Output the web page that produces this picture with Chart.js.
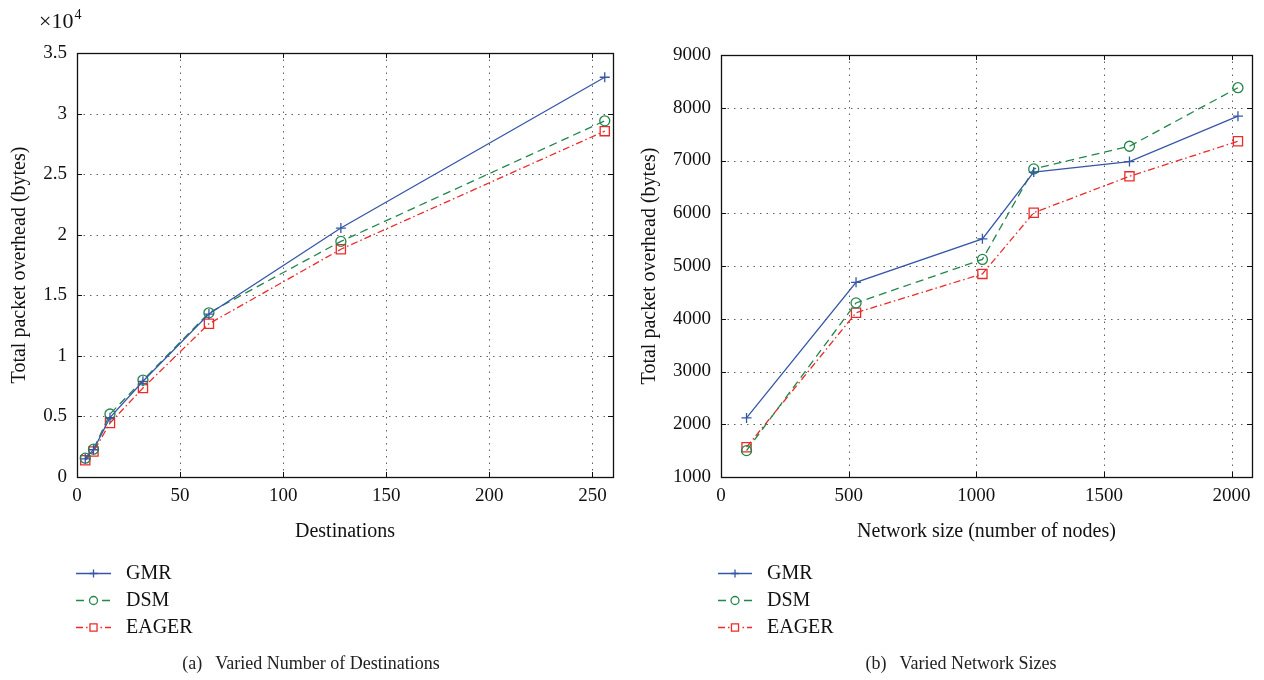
<!DOCTYPE html>
<html>
<head>
<meta charset="utf-8">
<script src="https://cdn.jsdelivr.net/npm/chart.js@4.4.0/dist/chart.umd.min.js"></script>
<style>
  body { margin: 0; background: #fff; }
  #wrap { position: relative; width: 1264px; height: 680px; }
  canvas { position: absolute; top: 0; }
  .cap { position: absolute; top: 653px; font: 18px "Liberation Serif", serif; color: #222; text-align: center; white-space: pre; }
</style>
</head>
<body>
<div id="wrap">
  <canvas id="left" width="630" height="680" style="left:0"></canvas>
  <canvas id="right" width="634" height="680" style="left:630px"></canvas>
  <div class="cap" style="left:111px;width:400px">(a)   Varied Number of Destinations</div>
  <div class="cap" style="left:761px;width:400px">(b)   Varied Network Sizes</div>
</div>
<script>
// (a) packet overhead vs number of destinations (bytes)
const destinations = [4, 8, 16, 32, 64, 128, 256];
const gmrDest   = [1500, 2250, 4900, 7900, 13450, 20550, 33000];
const dsmDest   = [1550, 2300, 5200, 8000, 13550, 19450, 29400];
const eagerDest = [1380, 2100, 4450, 7350, 12650, 18800, 28550];

// (b) packet overhead vs network size (bytes)
const networkSizes = [100, 529, 1024, 1225, 1600, 2025];
const gmrNet   = [2120, 4690, 5515, 6780, 6980, 7840];
const dsmNet   = [1500, 4300, 5125, 6840, 7270, 8380];
const eagerNet = [1565, 4115, 4850, 6010, 6700, 7365];

// tick labels
const destTicks = [0, 50, 100, 150, 200, 250];
const destYTicks = [0, 5000, 10000, 15000, 20000, 25000, 30000, 35000];
const netTicks = [0, 500, 1000, 1500, 2000];
const netYTicks = [1000, 2000, 3000, 4000, 5000, 6000, 7000, 8000, 9000];

const FONT = '"Liberation Serif", "Times New Roman", serif';

function toPoints(xs, ys) {
  return xs.map((x, i) => ({ x: x, y: ys[i] }));
}

function makeDatasets(xs, gmr, dsm, eager) {
  return [
    { label: "GMR", data: toPoints(xs, gmr), borderColor: "#3656a8", borderWidth: 1.3,
      pointStyle: "cross", pointRadius: 5, pointBorderWidth: 1.3, pointBorderColor: "#3656a8",
      pointBackgroundColor: "rgba(0,0,0,0)" },
    { label: "DSM", data: toPoints(xs, dsm), borderColor: "#23864a", borderWidth: 1.3,
      borderDash: [8, 5], pointStyle: "circle", pointRadius: 5, pointBorderWidth: 1.3,
      pointBorderColor: "#23864a", pointBackgroundColor: "rgba(0,0,0,0)" },
    { label: "EAGER", data: toPoints(xs, eager), borderColor: "#ec2a2a", borderWidth: 1.3,
      borderDash: [7, 3, 1.5, 3], pointStyle: "rect", pointRadius: 6.5, pointBorderWidth: 1.3,
      pointBorderColor: "#ec2a2a", pointBackgroundColor: "rgba(0,0,0,0)" }
  ];
}

// dotted grid, inward ticks, box, exponent and the stacked legend
const frame = {
  id: "frame",
  beforeDatasetsDraw(chart) {
    const { ctx, chartArea: a, scales: { x, y } } = chart;
    ctx.save();
    ctx.strokeStyle = "rgba(30,30,30,0.7)";
    ctx.lineWidth = 1;
    ctx.setLineDash([1.5, 5]);
    x.ticks.forEach(t => {
      const px = Math.round(x.getPixelForValue(t.value)) + 0.5;
      if (px <= a.left + 2 || px >= a.right - 2) return;
      ctx.beginPath(); ctx.moveTo(px, a.top); ctx.lineTo(px, a.bottom); ctx.stroke();
    });
    y.ticks.forEach(t => {
      const py = Math.round(y.getPixelForValue(t.value)) + 0.5;
      if (py <= a.top + 2 || py >= a.bottom - 2) return;
      ctx.beginPath(); ctx.moveTo(a.left, py); ctx.lineTo(a.right, py); ctx.stroke();
    });
    ctx.restore();
  },
  afterDraw(chart, args, opts) {
    const { ctx, chartArea: a, scales: { x, y } } = chart;
    ctx.save();
    ctx.strokeStyle = "#111";
    ctx.lineWidth = 1;
    ctx.setLineDash([]);
    ctx.beginPath();
    x.ticks.forEach(t => {
      const px = Math.round(x.getPixelForValue(t.value)) + 0.5;
      ctx.moveTo(px, a.bottom); ctx.lineTo(px, a.bottom - 5);
      ctx.moveTo(px, a.top); ctx.lineTo(px, a.top + 5);
    });
    y.ticks.forEach(t => {
      const py = Math.round(y.getPixelForValue(t.value)) + 0.5;
      ctx.moveTo(a.left, py); ctx.lineTo(a.left + 5, py);
      ctx.moveTo(a.right, py); ctx.lineTo(a.right - 5, py);
    });
    ctx.stroke();
    ctx.lineWidth = 1.3;
    ctx.strokeRect(Math.round(a.left) + 0.5, Math.round(a.top) + 0.5,
      Math.round(a.right - a.left), Math.round(a.bottom - a.top));

    ctx.fillStyle = "#111";
    if (opts.exponent) {
      ctx.textBaseline = "alphabetic";
      ctx.textAlign = "left";
      ctx.font = "22px " + FONT;
      ctx.fillText("\u00d710", 39, 28);
      const w = ctx.measureText("\u00d710").width;
      ctx.font = "14px " + FONT;
      ctx.fillText("4", 39 + w + 1, 19);
    }

    // legend rows below the plot
    const rows = [573, 600, 627];
    chart.data.datasets.forEach((ds, i) => {
      const ly = rows[i] + 0.5;
      ctx.strokeStyle = ds.borderColor;
      ctx.lineWidth = ds.borderWidth;
      ctx.setLineDash(ds.borderDash || []);
      ctx.beginPath();
      ctx.moveTo(opts.x0, ly); ctx.lineTo(opts.x1, ly);
      ctx.stroke();
      ctx.setLineDash([]);
      ctx.fillStyle = "#fff";
      const mx = (opts.x0 + opts.x1) / 2;
      if (ds.pointStyle !== "cross") {
        ctx.beginPath(); ctx.arc(mx, ly, 5, 0, Math.PI * 2); ctx.fill();
      }
      Chart.helpers.drawPoint(ctx, {
        pointStyle: ds.pointStyle, rotation: 0,
        radius: ds.pointStyle === "rect" ? 5 : 4, borderWidth: 1.3
      }, mx, ly);
      ctx.fillStyle = "#111";
      ctx.font = "20px " + FONT;
      ctx.textAlign = "left";
      ctx.textBaseline = "middle";
      ctx.fillText(ds.label, opts.textX, ly);
    });
    ctx.restore();
  }
};

function makeChart(id, cfg) {
  const tickFont = { family: FONT, size: 19 };
  const titleFont = { family: FONT, size: 20 };
  return new Chart(document.getElementById(id), {
    type: "line",
    data: { datasets: cfg.datasets },
    plugins: [frame],
    options: {
      responsive: false,
      animation: false,
      devicePixelRatio: 1,
      layout: { padding: { top: cfg.top, right: cfg.padRight, bottom: 131, left: 0 } },
      plugins: {
        legend: { display: false },
        tooltip: { enabled: false },
        frame: cfg.frame
      },
      scales: {
        x: {
          type: "linear",
          min: cfg.xMin, max: cfg.xMax,
          afterBuildTicks: s => { s.ticks = cfg.xTicks.map(v => ({ value: v })); },
          afterFit: s => { s.height = 72; },
          grid: { display: false, drawTicks: false },
          border: { display: false },
          ticks: { font: tickFont, color: "#111", padding: 8, maxRotation: 0,
                   callback: v => String(v) },
          title: { display: true, text: cfg.xTitle, font: titleFont, color: "#111",
                   padding: { top: 0, bottom: 5 } }
        },
        y: {
          type: "linear",
          min: cfg.yMin, max: cfg.yMax,
          afterBuildTicks: s => { s.ticks = cfg.yTicks.map(v => ({ value: v })); },
          afterFit: s => { s.width = cfg.yWidth; },
          grid: { display: false, drawTicks: false },
          border: { display: false },
          ticks: { font: tickFont, color: "#111", padding: 10, callback: cfg.yFormat },
          title: { display: true, text: "Total packet overhead (bytes)", font: titleFont,
                   color: "#111", padding: { top: 8, bottom: 0 } }
        }
      }
    }
  });
}

makeChart("left", {
  datasets: makeDatasets(destinations, gmrDest, dsmDest, eagerDest),
  top: 53, padRight: 17, yWidth: 77,
  xMin: 0, xMax: 260, xTicks: destTicks, xTitle: "Destinations",
  yMin: 0, yMax: 35000, yTicks: destYTicks,
  yFormat: v => String(v / 10000),
  frame: { exponent: true, x0: 76, x1: 111, textX: 126 }
});

makeChart("right", {
  datasets: makeDatasets(networkSizes, gmrNet, dsmNet, eagerNet),
  top: 55, padRight: 12, yWidth: 91,
  xMin: 0, xMax: 2080, xTicks: netTicks, xTitle: "Network size (number of nodes)",
  yMin: 1000, yMax: 9000, yTicks: netYTicks,
  yFormat: v => String(v),
  frame: { exponent: false, x0: 88, x1: 122, textX: 137 }
});
</script>
</body>
</html>
